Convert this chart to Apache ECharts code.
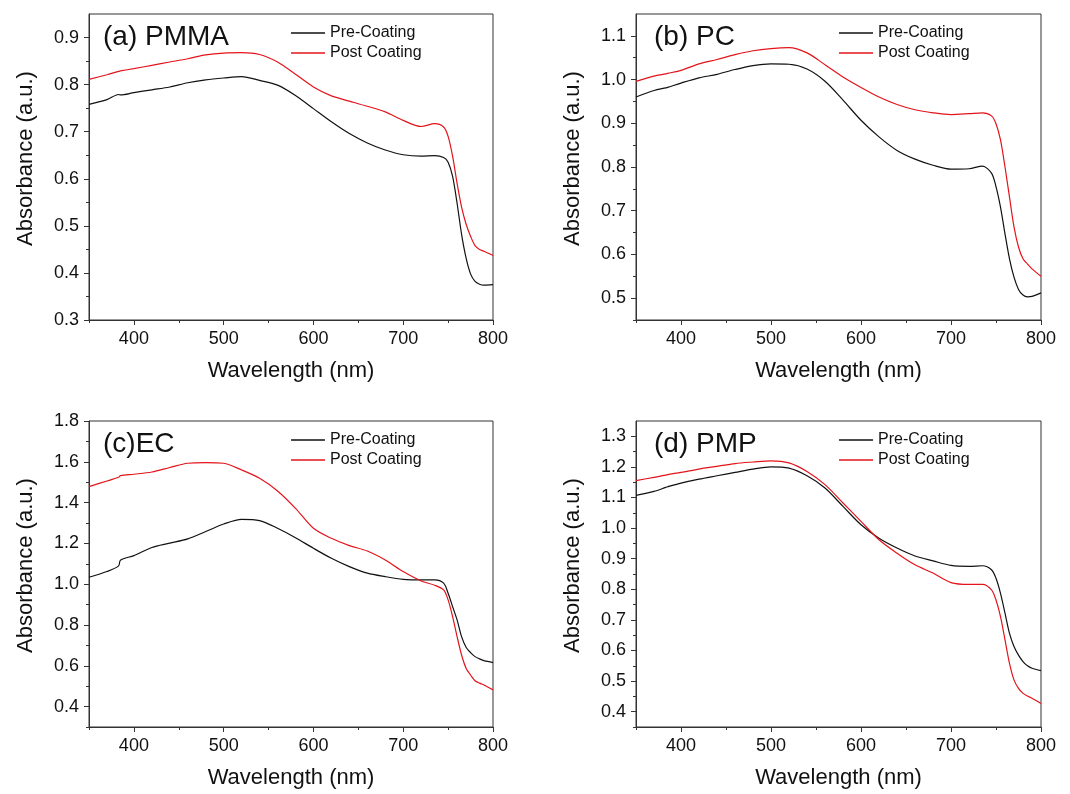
<!DOCTYPE html>
<html>
<head>
<meta charset="utf-8">
<script src="https://cdn.jsdelivr.net/npm/echarts@6/dist/echarts.min.js"></script>
<style>
  html, body { margin: 0; padding: 0; background: #fff; }
  #chart { width: 1070px; height: 794px; }
</style>
</head>
<body>
<div id="chart"></div>
<script>
// Wavelength samples (nm)
const wavelengths = [350, 370, 383, 385, 400, 420, 440, 460, 480, 500, 520, 540, 560, 580, 600, 620, 640, 660, 680, 700, 720, 735, 745, 750, 755, 760, 765, 770, 775, 780, 785, 790, 800];

// (a) PMMA
const pmmaPre  = [0.758, 0.768, 0.779, 0.778, 0.783, 0.789, 0.795, 0.804, 0.810, 0.814, 0.817, 0.809, 0.799, 0.777, 0.749, 0.721, 0.696, 0.676, 0.661, 0.651, 0.648, 0.649, 0.645, 0.635, 0.605, 0.548, 0.482, 0.432, 0.398, 0.382, 0.376, 0.374, 0.375];
const pmmaPost = [0.811, 0.821, 0.828, 0.829, 0.834, 0.841, 0.848, 0.855, 0.863, 0.867, 0.868, 0.864, 0.848, 0.822, 0.795, 0.776, 0.765, 0.754, 0.742, 0.724, 0.711, 0.717, 0.710, 0.690, 0.648, 0.590, 0.540, 0.504, 0.478, 0.458, 0.450, 0.446, 0.437];
// (b) PC
const pcPre  = [0.960, 0.975, 0.981, 0.982, 0.992, 1.004, 1.012, 1.023, 1.032, 1.036, 1.035, 1.024, 0.996, 0.953, 0.907, 0.869, 0.838, 0.818, 0.804, 0.795, 0.796, 0.802, 0.786, 0.755, 0.708, 0.647, 0.590, 0.548, 0.520, 0.507, 0.503, 0.504, 0.512];
const pcPost = [0.996, 1.008, 1.013, 1.014, 1.021, 1.036, 1.046, 1.057, 1.066, 1.071, 1.073, 1.061, 1.034, 1.006, 0.982, 0.960, 0.943, 0.931, 0.924, 0.920, 0.922, 0.924, 0.917, 0.899, 0.862, 0.800, 0.731, 0.663, 0.617, 0.590, 0.578, 0.567, 0.550];
// (c) EC
const ecPre  = [1.034, 1.062, 1.090, 1.118, 1.140, 1.180, 1.201, 1.222, 1.258, 1.295, 1.318, 1.312, 1.274, 1.228, 1.176, 1.127, 1.086, 1.054, 1.037, 1.024, 1.021, 1.021, 1.005, 0.956, 0.890, 0.825, 0.743, 0.691, 0.665, 0.645, 0.634, 0.625, 0.616];
const ecPost = [1.478, 1.506, 1.524, 1.532, 1.539, 1.550, 1.572, 1.593, 1.596, 1.593, 1.560, 1.519, 1.457, 1.372, 1.274, 1.225, 1.189, 1.163, 1.119, 1.062, 1.016, 0.995, 0.972, 0.923, 0.841, 0.743, 0.653, 0.588, 0.555, 0.527, 0.515, 0.506, 0.482];
// (d) PMP
const pmpPre  = [1.107, 1.120, 1.133, 1.135, 1.147, 1.160, 1.171, 1.182, 1.193, 1.200, 1.196, 1.171, 1.131, 1.071, 1.011, 0.967, 0.935, 0.909, 0.893, 0.878, 0.875, 0.877, 0.864, 0.836, 0.787, 0.722, 0.656, 0.613, 0.585, 0.564, 0.550, 0.542, 0.534];
const pmpPost = [1.155, 1.166, 1.173, 1.175, 1.182, 1.193, 1.202, 1.211, 1.216, 1.220, 1.213, 1.185, 1.142, 1.082, 1.022, 0.962, 0.918, 0.880, 0.853, 0.822, 0.816, 0.816, 0.798, 0.765, 0.711, 0.635, 0.558, 0.504, 0.476, 0.460, 0.451, 0.444, 0.427];

const panelTitles = ['(a) PMMA', '(b) PC', '(c)EC', '(d) PMP'];
const seriesNames = ['Pre-Coating', 'Post Coating'];

// Axis ticks
const xMajorTicks = [400, 500, 600, 700, 800];
const xMinorTicks = [350, 450, 550, 650, 750];
const yMajorTicks = [
  [0.3, 0.4, 0.5, 0.6, 0.7, 0.8, 0.9],
  [0.5, 0.6, 0.7, 0.8, 0.9, 1.0, 1.1],
  [0.4, 0.6, 0.8, 1.0, 1.2, 1.4, 1.6, 1.8],
  [0.4, 0.5, 0.6, 0.7, 0.8, 0.9, 1.0, 1.1, 1.2, 1.3]
];
const yMinorTicks = [
  [0.35, 0.45, 0.55, 0.65, 0.75, 0.85],
  [0.45, 0.55, 0.65, 0.75, 0.85, 0.95, 1.05],
  [0.3, 0.5, 0.7, 0.9, 1.1, 1.3, 1.5, 1.7],
  [0.35, 0.45, 0.55, 0.65, 0.75, 0.85, 0.95, 1.05, 1.15, 1.25]
];
const yRanges = [[0.3, 0.95], [0.45, 1.15], [0.3, 1.8], [0.35, 1.35]];

const panelData = [[pmmaPre, pmmaPost], [pcPre, pcPost], [ecPre, ecPost], [pmpPre, pmpPost]];

// Layout
const grids = [
  { left: 89, top: 14, width: 404, height: 306 },
  { left: 636, top: 14, width: 405, height: 306 },
  { left: 89, top: 421, width: 404, height: 306 },
  { left: 636, top: 421, width: 405, height: 306 }
];
const FONT = '"Liberation Sans", Arial, sans-serif';
const AXIS_COLOR = '#333';
const LINE_COLORS = ['#111111', '#e3141b'];

const option = {
  animation: false,
  backgroundColor: '#ffffff',
  textStyle: { fontFamily: FONT },
  title: [], legend: [], grid: [], xAxis: [], yAxis: [], series: []
};

grids.forEach((g, i) => {
  option.grid.push(Object.assign({ show: true, borderColor: AXIS_COLOR, borderWidth: 1, backgroundColor: 'transparent', containLabel: false }, g));
  option.title.push({
    text: panelTitles[i],
    left: g.left + 14 + (i % 2 === 1 ? 4 : 0),
    top: g.top + 9,
    padding: 0,
    textStyle: { fontFamily: FONT, fontSize: 28, fontWeight: 'normal', color: '#111' }
  });
  option.legend.push({
    data: seriesNames,
    orient: 'vertical',
    left: g.left + (i % 2 === 0 ? 202 : 203),
    top: g.top + 11,
    padding: 0,
    icon: 'rect',
    itemWidth: 34,
    itemHeight: 1.3,
    itemGap: 4,
    textStyle: { fontFamily: FONT, fontSize: 16, lineHeight: 16, color: '#111' }
  });
  // main x axis
  option.xAxis.push({
    type: 'value', gridIndex: i, min: 350, max: 800, position: 'bottom',
    name: 'Wavelength (nm)', nameLocation: 'middle', nameGap: 40,
    nameTextStyle: { fontFamily: FONT, fontSize: 22, color: '#111' },
    axisLine: { show: true, lineStyle: { color: AXIS_COLOR, width: 1 } },
    axisTick: { show: true, inside: false, length: 5, customValues: xMajorTicks, lineStyle: { color: AXIS_COLOR } },
    axisLabel: { show: true, margin: 10, customValues: xMajorTicks, fontFamily: FONT, fontSize: 18, color: '#111' },
    splitLine: { show: false }
  });
  // minor x ticks
  option.xAxis.push({
    type: 'value', gridIndex: i, min: 350, max: 800, position: 'bottom',
    axisLine: { show: false },
    axisTick: { show: true, inside: false, length: 3, customValues: xMinorTicks, lineStyle: { color: AXIS_COLOR } },
    axisLabel: { show: false },
    splitLine: { show: false }
  });
  // main y axis
  option.yAxis.push({
    type: 'value', gridIndex: i, min: yRanges[i][0], max: yRanges[i][1], position: 'left',
    name: 'Absorbance (a.u.)', nameLocation: 'middle', nameGap: 52,
    nameTextStyle: { fontFamily: FONT, fontSize: 22, color: '#111', padding: [0, 0, 0, 17] },
    axisLine: { show: true, lineStyle: { color: AXIS_COLOR, width: 1 } },
    axisTick: { show: true, inside: false, length: 5, customValues: yMajorTicks[i], lineStyle: { color: AXIS_COLOR } },
    axisLabel: { show: true, margin: 10, customValues: yMajorTicks[i], fontFamily: FONT, fontSize: 18, color: '#111',
                 formatter: v => Number(v).toFixed(1) },
    splitLine: { show: false }
  });
  // minor y ticks
  option.yAxis.push({
    type: 'value', gridIndex: i, min: yRanges[i][0], max: yRanges[i][1], position: 'left',
    axisLine: { show: false },
    axisTick: { show: true, inside: false, length: 3, customValues: yMinorTicks[i], lineStyle: { color: AXIS_COLOR } },
    axisLabel: { show: false },
    splitLine: { show: false }
  });
  panelData[i].forEach((vals, k) => {
    option.series.push({
      name: seriesNames[k],
      type: 'line',
      xAxisIndex: 2 * i,
      yAxisIndex: 2 * i,
      data: wavelengths.map((w, j) => [w, vals[j]]),
      symbol: 'none',
      smooth: 0.3,
      lineStyle: { color: LINE_COLORS[k], width: 1.2 },
      itemStyle: { color: LINE_COLORS[k] },
      z: 3 + k
    });
  });
});

const chart = echarts.init(document.getElementById('chart'), null, { renderer: 'canvas' });
chart.setOption(option);
</script>
</body>
</html>
